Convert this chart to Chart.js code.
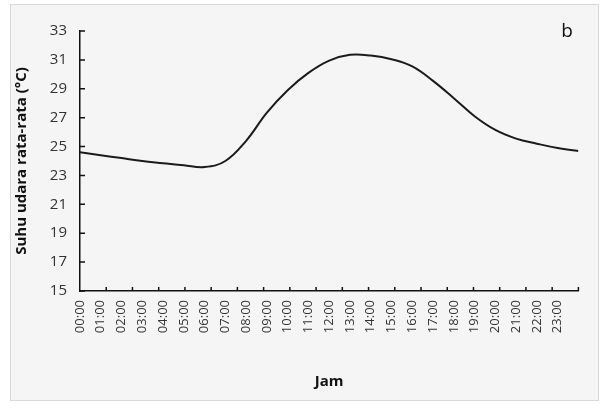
<!DOCTYPE html>
<html>
<head>
<meta charset="utf-8">
<script src="https://cdn.jsdelivr.net/npm/chart.js@4"></script>
<style>
  html, body { margin: 0; padding: 0; background: #fff; }
  #wrap { position: relative; width: 603px; height: 405px; }
  #frame { position: absolute; left: 10px; top: 4px; width: 589px; height: 397px;
           border: 1px solid #d9d9d9; background: #f5f5f5; box-sizing: border-box; }
  #c { position: absolute; left: 0; top: 0; }
</style>
</head>
<body>
<div id="wrap">
  <div id="frame"></div>
  <canvas id="c" width="603" height="405"></canvas>
</div>
<script>
// Suhu udara rata-rata per jam (panel b)
const hours = [0, 1, 2, 3, 4, 5, 6, 7, 8, 9, 10, 11, 12, 13, 14, 15, 16, 17, 18, 19, 20, 21, 22, 23, 24];
const temps = [24.6, 24.4, 24.2, 24.0, 23.85, 23.7, 23.58, 24.0, 25.4, 27.35, 28.9, 30.1, 30.95, 31.35, 31.3, 31.05,
  30.55, 29.55, 28.35, 27.1, 26.15, 25.55, 25.2, 24.9, 24.7];
const yTicks = [15, 17, 19, 21, 23, 25, 27, 29, 31, 33];
const hourLabels = ['00:00', '01:00', '02:00', '03:00', '04:00', '05:00', '06:00', '07:00', '08:00', '09:00', '10:00', '11:00',
  '12:00', '13:00', '14:00', '15:00', '16:00', '17:00', '18:00', '19:00', '20:00', '21:00', '22:00', '23:00'];
const xTickMarks = 19; // tanda tick sumbu x (tidak sejajar label, seperti aslinya)

const FONT = "'Open Sans', 'Noto Sans', sans-serif";

// tick kecil menghadap ke dalam + huruf panel
const innerTicks = {
  id: 'innerTicks',
  afterDraw(chart) {
    const { ctx, scales: { x, y } } = chart;
    ctx.save();
    ctx.strokeStyle = '#111';
    ctx.lineWidth = 1.5;
    ctx.beginPath();
    yTicks.forEach(v => {
      const py = y.getPixelForValue(v);
      ctx.moveTo(x.left, py);
      ctx.lineTo(x.left + 5, py);
    });
    for (let k = 1; k <= xTickMarks; k++) {
      const px = x.getPixelForValue(k * 24 / xTickMarks);
      ctx.moveTo(px, y.bottom);
      ctx.lineTo(px, y.bottom - 4);
    }
    ctx.stroke();
    ctx.fillStyle = '#111';
    ctx.font = `19px ${FONT}`;
    ctx.textAlign = 'center';
    ctx.textBaseline = 'middle';
    ctx.fillText('b', 567, 32);
    ctx.restore();
  }
};

new Chart(document.getElementById('c'), {
  type: 'line',
  data: {
    datasets: [{
      data: hours.map((h, i) => ({ x: h, y: temps[i] })),
      borderColor: '#1f1a1a',
      borderWidth: 2,
      pointRadius: 0,
      tension: 0.4,
      fill: false,
    }],
  },
  options: {
    responsive: false,
    animation: false,
    layout: { padding: { top: 31, right: 20, left: 0, bottom: 0 } },
    plugins: { legend: { display: false }, tooltip: { enabled: false } },
    scales: {
      x: {
        type: 'linear',
        min: 0,
        max: 24,
        afterFit: s => { s.height = 114; },
        grid: { display: false, drawTicks: false },
        border: { display: true, color: '#111', width: 1.5 },
        ticks: {
          stepSize: 1,
          autoSkip: false,
          minRotation: 90,
          maxRotation: 90,
          padding: 9,
          color: '#333',
          font: { family: FONT, size: 13 },
          callback: v => hourLabels[v] || '',
        },
        title: {
          display: true,
          text: 'Jam',
          color: '#111',
          font: { family: FONT, size: 15, weight: 'bold' },
          padding: { top: 0, bottom: 14 },
        },
      },
      y: {
        min: 15,
        max: 33,
        afterFit: s => { s.width = 80; },
        grid: { display: false, drawTicks: false },
        border: { display: true, color: '#111', width: 1.5 },
        ticks: {
          stepSize: 2,
          padding: 13,
          color: '#333',
          font: { family: FONT, size: 15 },
        },
        title: {
          display: true,
          text: 'Suhu udara rata-rata (\u00B0C)',
          color: '#111',
          font: { family: FONT, size: 15, weight: 'bold' },
          padding: { top: 13, bottom: 0 },
        },
      },
    },
  },
  plugins: [innerTicks],
});
</script>
</body>
</html>
